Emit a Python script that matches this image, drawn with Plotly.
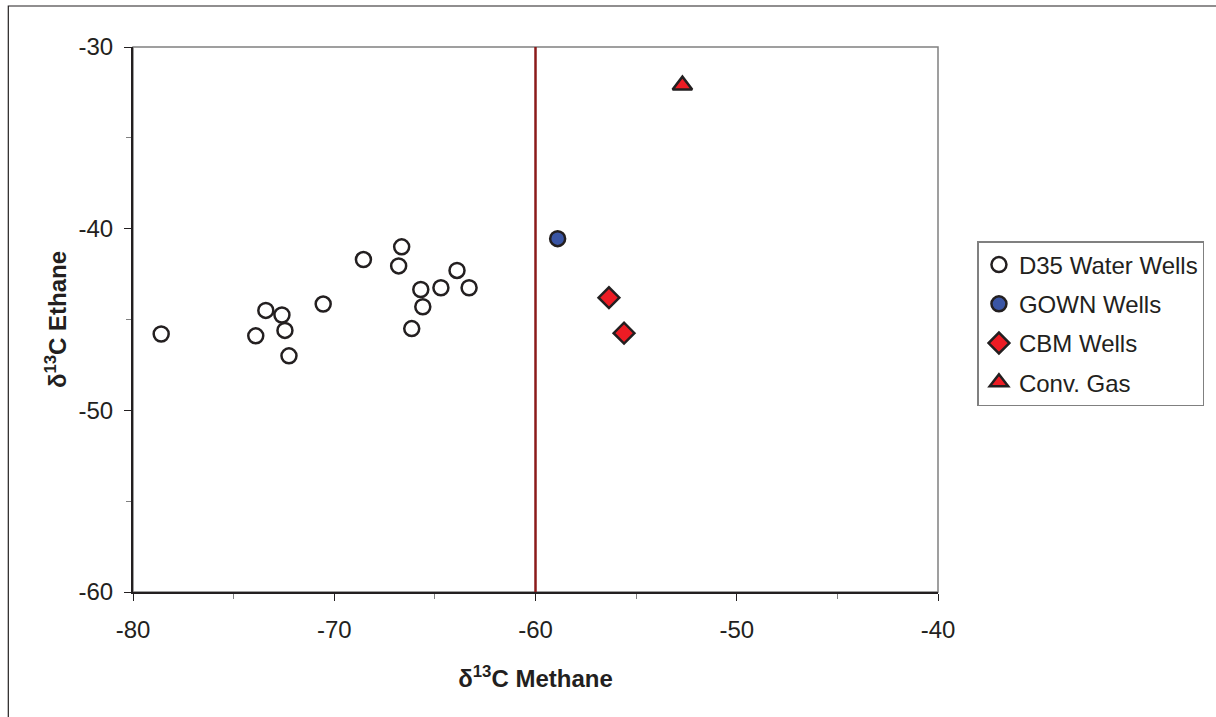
import plotly.graph_objects as go

# Carbon isotope data (per mil)
d35_methane = [-78.6, -73.9, -73.4, -72.6, -72.45, -72.25, -70.55, -68.55,
               -66.65, -66.8, -65.7, -65.6, -66.15, -64.7, -63.9, -63.3]
d35_ethane = [-45.8, -45.9, -44.5, -44.75, -45.6, -47.0, -44.15, -41.7,
              -41.0, -42.05, -43.35, -44.3, -45.5, -43.25, -42.3, -43.25]

gown_methane = [-58.9]
gown_ethane = [-40.55]

cbm_methane = [-56.35, -55.6]
cbm_ethane = [-43.8, -45.75]

conv_methane = [-52.7]
conv_ethane = [-32.1]

boundary_methane = -60

x_ticks = [-80, -70, -60, -50, -40]
y_ticks = [-60, -50, -40, -30]

FONT = "Liberation Sans, Arial, sans-serif"
RED = "#ED1C24"
EDGE = "#231F20"

fig = go.Figure()

fig.add_trace(go.Scatter(
    x=d35_methane, y=d35_ethane, mode="markers", name="D35 Water Wells",
    legendgroup="a",
    marker=dict(symbol="circle", size=15, color="white",
                line=dict(color=EDGE, width=2.5)),
))
fig.add_trace(go.Scatter(
    x=gown_methane, y=gown_ethane, mode="markers", name="GOWN Wells",
    legendgroup="b",
    marker=dict(symbol="circle", size=15, color="#3A55A4",
                line=dict(color=EDGE, width=2.5)),
))
fig.add_trace(go.Scatter(
    x=cbm_methane, y=cbm_ethane, mode="markers", name="CBM Wells",
    legendgroup="c",
    marker=dict(symbol="diamond", size=16, color=RED,
                line=dict(color=EDGE, width=2.5)),
))
fig.add_trace(go.Scatter(
    x=conv_methane, y=conv_ethane, mode="markers", name="Conv. Gas",
    legendgroup="d",
    marker=dict(symbol="triangle-up", size=17, color=RED,
                line=dict(color=EDGE, width=2.5)),
))

# Vertical boundary at -60 per mil methane
fig.add_shape(type="line", xref="x", yref="y",
              x0=boundary_methane, x1=boundary_methane, y0=-60, y1=-30,
              line=dict(color="#8B1A1A", width=2.5), layer="below")

# Plot area border (top/right) and outer frame
fig.add_shape(type="rect", xref="paper", yref="paper", x0=0, x1=1, y0=0, y1=1,
              line=dict(color="#808080", width=1.5), layer="below")
fig.add_shape(type="rect", xref="paper", yref="paper",
              x0=-0.1549, x1=1.5, y0=-0.3, y1=1.0752,
              line=dict(color="#231F20", width=1.2), layer="below")

axis_common = dict(
    showgrid=False, zeroline=False, showline=True, linecolor="#231F20",
    linewidth=2, ticks="outside", ticklen=7, tickcolor="#231F20",
    tickwidth=1, tickfont=dict(family=FONT, size=24, color="#231F20"),
    minor=dict(dtick=5, ticks="outside", ticklen=5, tickcolor="#808080",
               tickwidth=1, showgrid=False),
)

fig.update_layout(
    width=1216, height=717,
    margin=dict(l=133, r=276, t=47, b=125),
    paper_bgcolor="white", plot_bgcolor="white",
    font=dict(family=FONT, color="#231F20"),
    xaxis=dict(range=[-80, -40], tickvals=x_ticks,
               ticktext=[str(v) for v in x_ticks], ticklabelstandoff=8,
               **axis_common,
               title=dict(text="<b>δ<sup>13</sup>C Methane</b>",
                          font=dict(family=FONT, size=24), standoff=28)),
    yaxis=dict(range=[-60, -30], tickvals=y_ticks,
               ticktext=[str(v) for v in y_ticks], ticklabelstandoff=6,
               **axis_common,
               title=dict(text="<b>δ<sup>13</sup>C Ethane</b>",
                          font=dict(family=FONT, size=24), standoff=5)),
    legend=dict(
        x=1.049, y=0.644, xanchor="left", yanchor="top",
        bordercolor="#808080", borderwidth=1.5, bgcolor="white",
        font=dict(family=FONT, size=24, color="#231F20"),
        tracegroupgap=5, itemwidth=30,
    ),
    showlegend=True,
)

fig.write_html("out.html")
